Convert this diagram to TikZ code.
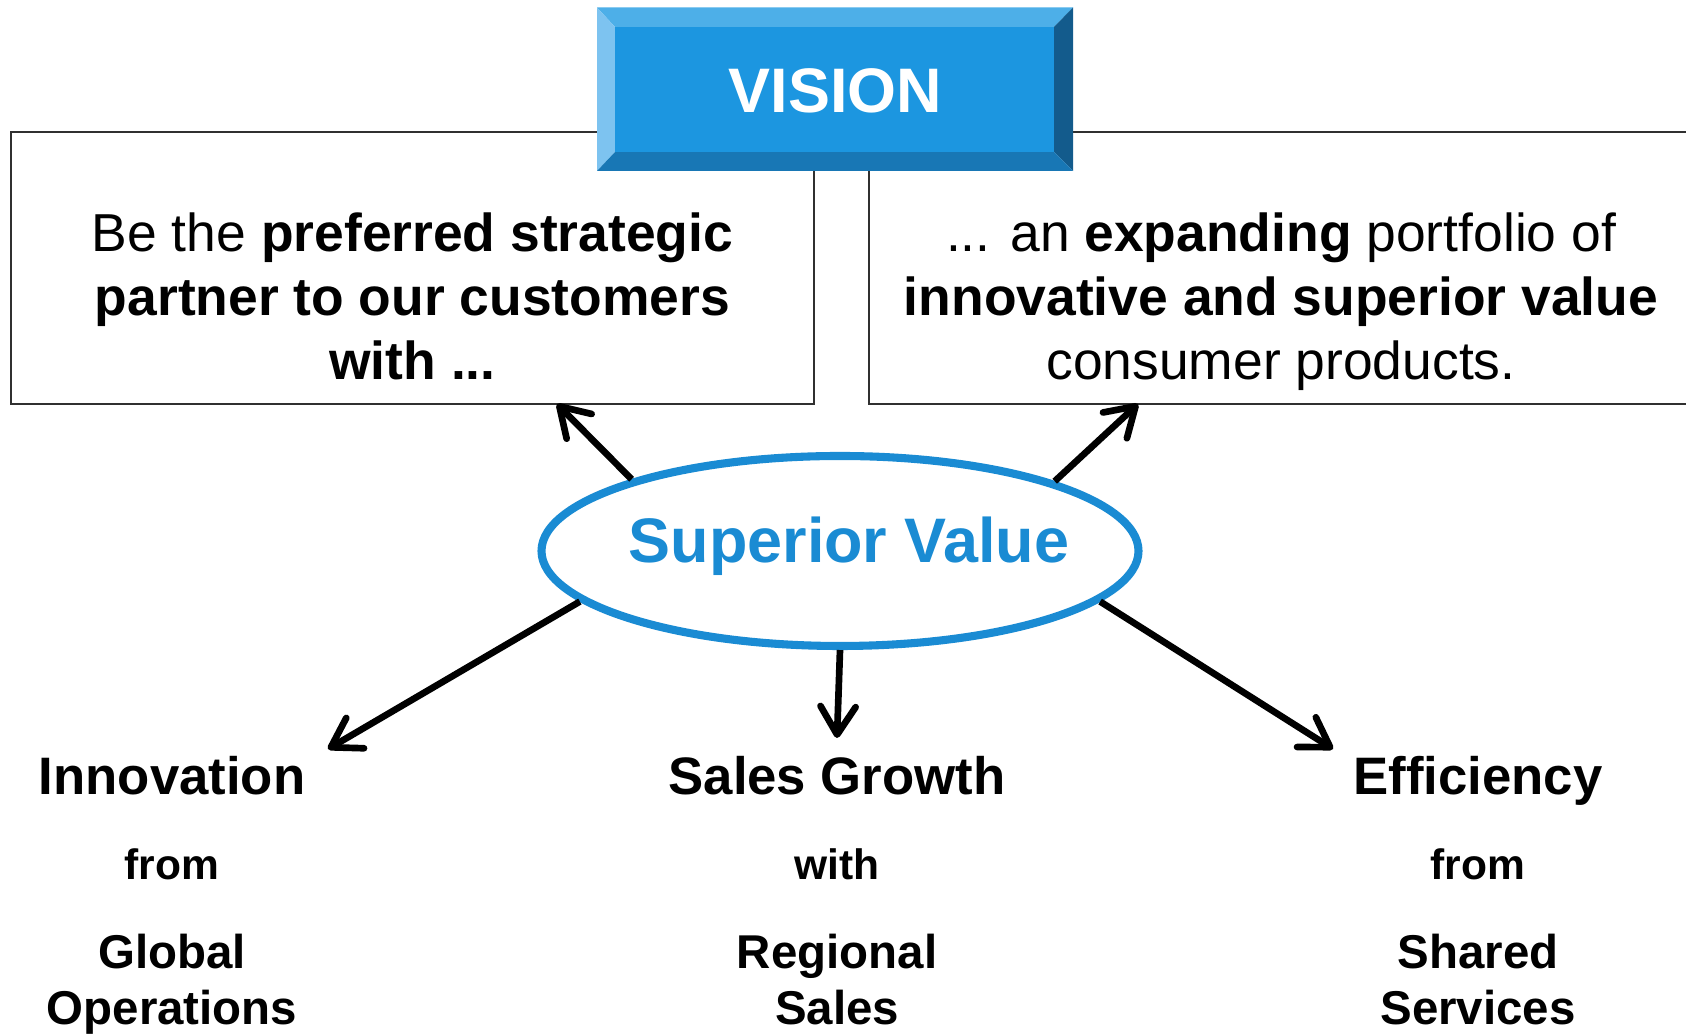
\documentclass[tikz,border=0pt]{standalone}
\usepackage{fontspec}
\setmainfont{Liberation Sans}
\usetikzlibrary{arrows.meta,shapes.geometric}

\definecolor{boxline}{HTML}{303030}
\definecolor{valueblue}{HTML}{1A8BD3}
\definecolor{visionface}{HTML}{1C96E0}
\definecolor{visiontop}{HTML}{4DAFE8}
\definecolor{visionleft}{HTML}{7DC3F0}
\definecolor{visionright}{HTML}{135B8C}
\definecolor{visionbottom}{HTML}{1877B5}

\begin{document}
\begin{tikzpicture}[
	>={Straight Barb[length=8pt,width=10pt,round]},
	box/.style={draw=boxline, line width=0.7pt},
	boxtext/.style={align=center, anchor=base, inner sep=0pt, font=\fontsize{15.2}{18.3}\selectfont},
	headtext/.style={anchor=base, inner sep=0pt, font=\bfseries\fontsize{15}{18}\selectfont},
	smalltext/.style={anchor=base, inner sep=0pt, font=\bfseries\fontsize{12.1}{14.5}\selectfont},
	sourcetext/.style={anchor=base, inner sep=0pt, font=\bfseries\fontsize{13.5}{16}\selectfont},
	link/.style={->, line width=1.9pt}
]

	\useasboundingbox (0,0) rectangle (16.86,10.34);

	% Boxes
	\draw[box] (0.11,6.30) rectangle (8.14,9.02);
	\draw[box] (8.69,6.30) rectangle (16.95,9.02);

	% Vision corners
	\coordinate (V1) at (5.97,8.63);
	\coordinate (V2) at (10.73,8.63);
	\coordinate (V3) at (10.73,10.265);
	\coordinate (V4) at (5.97,10.265);
	\coordinate (I1) at (6.15,8.82);
	\coordinate (I2) at (10.54,8.82);
	\coordinate (I3) at (10.54,10.07);
	\coordinate (I4) at (6.15,10.07);

	% Vision bevel
	\fill[visiontop] (V4) -- (V3) -- (I3) -- (I4) -- cycle;
	\fill[visionleft] (V1) -- (V4) -- (I4) -- (I1) -- cycle;
	\fill[visionright] (V2) -- (V3) -- (I3) -- (I2) -- cycle;
	\fill[visionbottom] (V1) -- (V2) -- (I2) -- (I1) -- cycle;
	\fill[visionface] (I1) rectangle (I3);
	\node[anchor=base, text=white, font=\bfseries\fontsize{17.9}{21}\selectfont] (vision) at (8.355,9.21) {VISION};

	% Box texts
	\node[boxtext] (partner) at (4.125,6.54)
		{Be the \textbf{preferred strategic}\\ \textbf{partner to our customers}\\ \textbf{with ...}};
	\node[boxtext] (portfolio) at (12.81,6.54)
		{... an \textbf{expanding} portfolio of\\ \textbf{innovative and superior value}\\ consumer products.};

	% Goal points
	\coordinate (goalL) at (5.57,6.30);
	\coordinate (goalR) at (11.38,6.30);
	\coordinate (innoTip) at (3.28,2.85);
	\coordinate (salesTip) at (8.37,2.96);
	\coordinate (effTip) at (13.33,2.85);

	% Superior value
	\node[ellipse, draw=valueblue, line width=2.3pt, minimum width=5.97cm, minimum height=1.90cm,
		inner sep=0pt] (value) at (8.40,4.83) {};
	\node[anchor=base, text=valueblue, font=\bfseries\fontsize{17.9}{21}\selectfont] (valueLabel) at (8.49,4.71) {Superior Value};

	% Arrows
	\draw[link] (value.161) -- (goalL);
	\draw[link] (value.18) -- (goalR);
	\draw[link] (value.191.6) -- (innoTip);
	\draw[link] (value.south) -- (salesTip);
	\draw[link] (value.349) -- (effTip);

	% Bottom texts
	\node[headtext] (innovation) at (1.72,2.39) {Innovation};
	\node[smalltext] (innoFrom) at (1.72,1.54) {from};
	\node[sourcetext] (global) at (1.72,0.65) {Global};
	\node[sourcetext] (operations) at (1.72,0.09) {Operations};

	\node[headtext] (growth) at (8.37,2.39) {Sales Growth};
	\node[smalltext] (growthWith) at (8.37,1.54) {with};
	\node[sourcetext] (regional) at (8.37,0.65) {Regional};
	\node[sourcetext] (sales) at (8.37,0.09) {Sales};

	\node[headtext] (efficiency) at (14.78,2.39) {Efficiency};
	\node[smalltext] (effFrom) at (14.78,1.54) {from};
	\node[sourcetext] (shared) at (14.78,0.65) {Shared};
	\node[sourcetext] (services) at (14.78,0.09) {Services};
\end{tikzpicture}
\end{document}
